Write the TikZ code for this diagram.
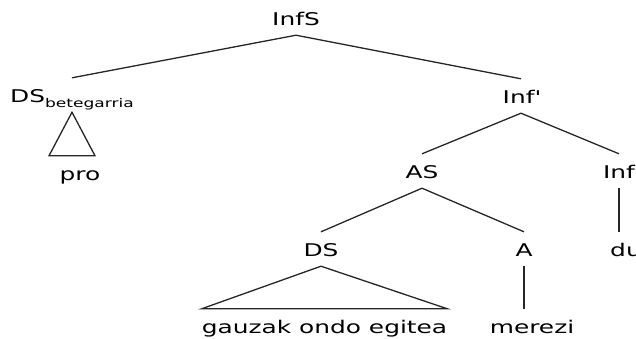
\documentclass[tikz,border=0pt]{standalone}
\usepackage{fontspec}
\setmainfont{DejaVu Sans}[FakeStretch=1.42]
\usepackage{tikz}
\usetikzlibrary{calc, positioning}

\begin{document}
\begin{tikzpicture}[
  x=1pt, y=-1pt,
  cat/.style  = {anchor=base, inner xsep=0pt, inner ysep=6pt, text height=18pt, text depth=4pt, font=\fontsize{17.5}{20}\selectfont, text=black},
  edge/.style = {line width=1.3pt, color=black!85},
]
\clip (0,0) rectangle (636,338);
% top
\node[cat] (infs) at (296,25) {InfS};
\node[cat] (dsb) at (72,102) {DS\raisebox{-5pt}{\fontsize{12}{13}\selectfont betegarria}};
\node[cat] (infbar) at (521,103) {Inf\textquotesingle};
\node[cat] (pro) at (80,180) {pro};
% middle
\node[cat] (as) at (422,178) {AS};
\node[cat] (inf) at (619,178) {Inf};
\node[cat] (ds) at (321,256) {DS};
\node[cat] (a) at (524,256) {A};
\node[cat] (du) at (626,256) {du};
% leaves
\node[cat] (gz) at (324.5,333) {gauzak ondo egitea};
\node[cat] (merezi) at (532,333) {merezi};

\draw[edge] (infs.south) -- (dsb.north);
\draw[edge] (infs.south) -- (infbar.north);
\draw[edge] (dsb.south) -- ($(dsb.south |- pro.north)+(-23,0)$) -- ++(46,0) -- cycle;
\draw[edge] (infbar.south) -- (as.north);
\draw[edge] (infbar.south) -- (inf.north);
\draw[edge] (as.south) -- (ds.north);
\draw[edge] (as.south) -- (a.north);
\draw[edge] (inf.south) -- (inf.south |- du.north);
\draw[edge] (ds.south) -- (gz.north west) -- (gz.north east) -- cycle;
\draw[edge] (a.south) -- (a.south |- merezi.north);
\end{tikzpicture}
\end{document}
